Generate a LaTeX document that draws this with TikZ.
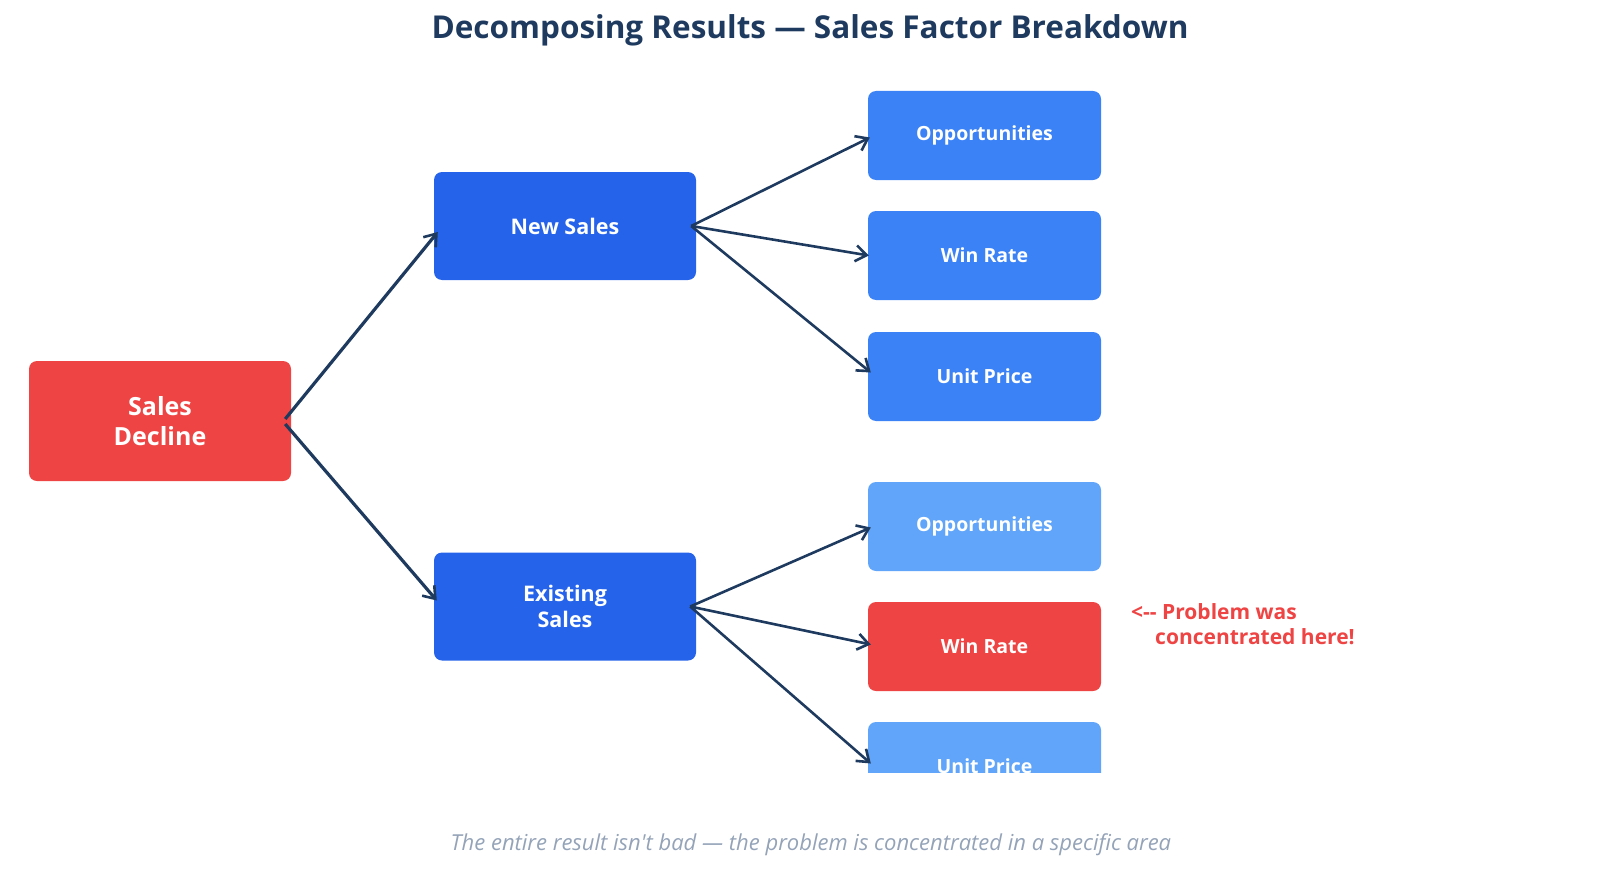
\documentclass[tikz,border=0pt]{standalone}
\usepackage{fontspec}
\setmainfont{Open Sans}
\usetikzlibrary{arrows.meta}
\definecolor{navy}{HTML}{1E3A5F}
\definecolor{alarm}{HTML}{EF4444}
\definecolor{deepblue}{HTML}{2563EB}
\definecolor{midblue}{HTML}{3B82F6}
\definecolor{paleblue}{HTML}{60A5FA}
\definecolor{slate}{HTML}{94A3B8}
\tikzset{
  box/.style={rounded corners=8pt, inner sep=0pt, text=white, font=\bfseries, align=center},
  branch/.style={box, minimum width=262pt, minimum height=108pt, fill=deepblue, font=\bfseries\fontsize{21.5}{26}\selectfont},
  leaf/.style={box, minimum width=233pt, minimum height=89pt, font=\bfseries\fontsize{19.5}{22}\selectfont},
  link/.style={draw=navy, line width=2.6pt, -{Straight Barb[length=11pt,width=16pt,line width=2.6pt]}}
}
\begin{document}
\begin{tikzpicture}[x=1pt, y=-1pt]
\useasboundingbox (0,0) rectangle (1621,872);

\node[text=navy, font=\bfseries\fontsize{31.5}{36}\selectfont] (title) at (810,30) {Decomposing Results --- Sales Factor Breakdown};

\node[box, fill=alarm, minimum width=262pt, minimum height=120pt, font=\bfseries\fontsize{25}{30}\selectfont] (sd) at (160,421) {Sales\\Decline};

\node[branch] (ns) at (565,226) {New Sales};
\node[branch] (es) at (565,606.5) {Existing\\Sales};

\node[leaf, fill=midblue] (opp1) at (984.5,135.5) {Opportunities};
\node[leaf, fill=midblue] (wr1) at (984.5,255.5) {Win Rate};
\node[leaf, fill=midblue] (up1) at (984.5,376.5) {Unit Price};

\node[leaf, fill=paleblue] (opp2) at (984.5,526.5) {Opportunities};
\node[leaf, fill=alarm] (wr2) at (984.5,646.5) {Win Rate};
\begin{scope}
\clip (0,0) rectangle (1621,772);
\node[leaf, fill=paleblue] (up2) at (984.5,766.5) {Unit Price};
\end{scope}

\node[anchor=north west, text=alarm, align=left, inner sep=0pt, font=\bfseries\fontsize{21}{25.5}\selectfont] (note) at (1131,603) {<-{}- Problem was\\\hspace*{24pt}concentrated here!};

\node[text=slate, font=\itshape\fontsize{22}{26}\selectfont] (caption) at (811,845) {The entire result isn\textquotesingle t bad --- the problem is concentrated in a specific area};

\draw[link, line width=3.2pt] ([xshift=-6pt,yshift=2pt]sd.east) -- ([xshift=4pt,yshift=-6pt]ns.west);
\draw[link, line width=3.2pt] ([xshift=-6pt,yshift=-3pt]sd.east) -- ([xshift=3pt,yshift=6pt]es.west);

\draw[link] ([xshift=-5pt]ns.east) -- ([xshift=2pt,yshift=-2pt]opp1.west);
\draw[link] ([xshift=-5pt]ns.east) -- ([xshift=1pt]wr1.west);
\draw[link] ([xshift=-5pt]ns.east) -- ([xshift=3pt,yshift=4pt]up1.west);

\draw[link] ([xshift=-6pt]es.east) -- ([xshift=3pt,yshift=-1pt]opp2.west);
\draw[link] ([xshift=-6pt]es.east) -- ([xshift=3pt,yshift=2pt]wr2.west);
\draw[link] ([xshift=-6pt]es.east) -- ([xshift=3pt,yshift=3pt]up2.west);
\end{tikzpicture}
\end{document}
